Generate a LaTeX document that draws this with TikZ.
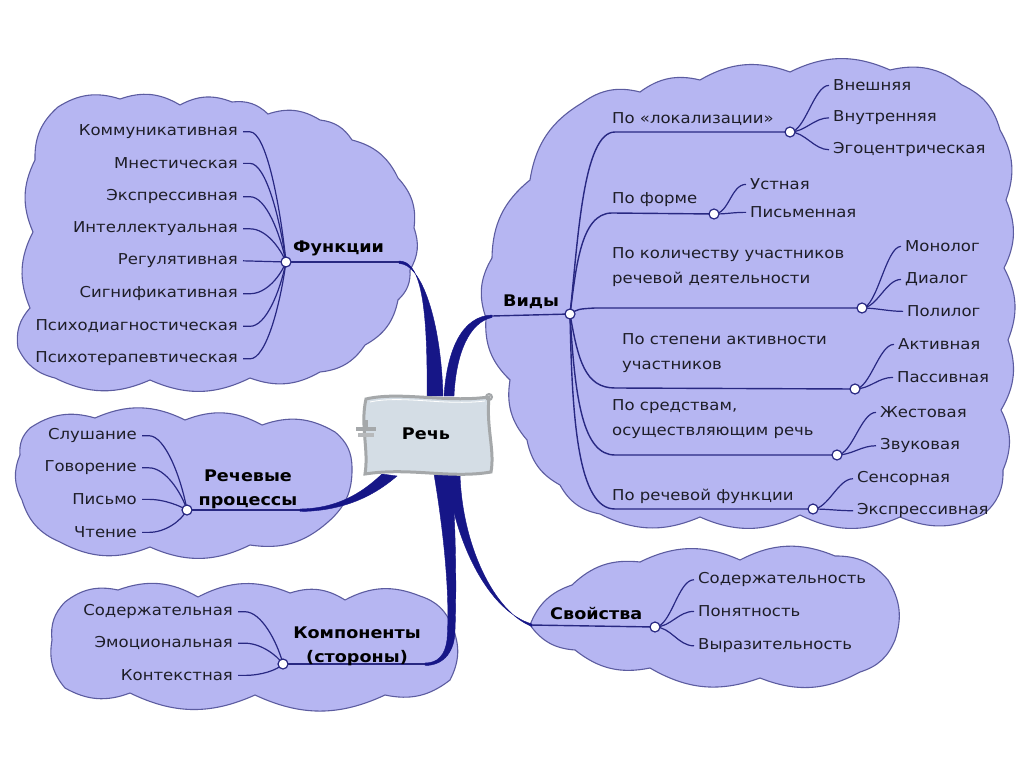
\documentclass[tikz,border=0pt]{standalone}
\usepackage{fontspec}
\setmainfont{DejaVu Sans}[FakeStretch=1.1]
\definecolor{cloudfill}{RGB}{182,182,242}
\definecolor{cloudline}{RGB}{92,92,160}
\definecolor{linec}{RGB}{40,40,130}
\definecolor{thickc}{RGB}{22,22,135}
\definecolor{textc}{RGB}{30,30,40}
\definecolor{boxfill}{RGB}{212,221,229}
\definecolor{boxline}{RGB}{165,168,170}
\begin{document}
\begin{tikzpicture}[x=1pt,y=-1pt,
  cloud/.style={fill=cloudfill, draw=cloudline, line width=1.1pt},
  thin/.style={draw=linec, line width=1.4pt},
  thickbr/.style={fill=thickc, draw=thickc, line width=0.4pt},
  hub/.style={circle, draw=linec, fill=white, line width=1.2pt, minimum size=10pt, inner sep=0pt},
  lab/.style={font=\fontsize{15}{25}\selectfont, text=textc, inner sep=0pt},
  bld/.style={font=\fontsize{16}{24}\selectfont\bfseries, text=black, inner sep=0pt, align=center},
]
\useasboundingbox (0,0) rectangle (1024,767);
\fill[white] (0,0) rectangle (1024,767);

% ---------- clouds ----------
\draw[cloud] (35,160) to[bend left=25] (58,107) to[bend left=25] (120,99) to[bend left=25] (180,105)
  to[bend left=25] (232,102) to[bend left=25] (268,114) to[bend left=25] (320,120) to[bend left=25] (352,140)
  to[bend left=25] (398,178) to[bend left=25] (414,228) to[bend left=25] (410,270) to[bend left=25] (398,300)
  to[bend left=25] (365,345) to[bend left=25] (320,372) to[bend left=25] (250,378) to[bend left=25] (150,380)
  to[bend left=25] (55,378) to[bend left=25] (18,348) to[bend left=25] (30,308) to[bend left=25] (33,232)
  to[bend left=25] (35,160) -- cycle;

\draw[cloud] (30,428) to[bend left=25] (95,418) to[bend left=25] (185,420) to[bend left=25] (262,425)
  to[bend left=25] (335,432) to[bend left=25] (352,468) to[bend left=25] (328,522) to[bend left=25] (250,545)
  to[bend left=25] (150,547) to[bend left=25] (60,542) to[bend left=25] (22,500) to[bend left=25] (20,455)
  to[bend left=25] (30,428) -- cycle;

\draw[cloud] (65,602) to[bend left=25] (118,590) to[bend left=25] (198,597) to[bend left=25] (290,593)
  to[bend left=25] (345,600) to[bend left=25] (420,596) to[bend left=25] (452,626) to[bend left=25] (450,680)
  to[bend left=25] (385,695) to[bend left=25] (255,695) to[bend left=25] (130,693) to[bend left=25] (65,688)
  to[bend left=25] (52,640) to[bend left=25] (65,602) -- cycle;

\draw[cloud] (530,625) to[bend left=25] (572,585) to[bend left=25] (640,562) to[bend left=25] (740,560)
  to[bend left=25] (835,556) to[bend left=25] (888,580) to[bend left=25] (895,640) to[bend left=25] (860,672)
  to[bend left=25] (760,678) to[bend left=25] (650,668) to[bend left=25] (575,650) to[bend left=25] (530,625) -- cycle;

\draw[cloud] (492,258) to[bend left=25] (530,180) to[bend left=25] (582,103) to[bend left=25] (640,92)
  to[bend left=25] (700,80) to[bend left=25] (790,72) to[bend left=25] (890,70) to[bend left=25] (962,85)
  to[bend left=25] (1000,130) to[bend left=25] (1006,200) to[bend left=25] (1004,268) to[bend left=25] (1008,340)
  to[bend left=25] (1001,410) to[bend left=25] (1003,470) to[bend left=25] (984,514) to[bend left=25] (900,517)
  to[bend left=25] (800,515) to[bend left=25] (700,517) to[bend left=25] (600,514) to[bend left=25] (560,485)
  to[bend left=25] (527,440) to[bend left=25] (510,380) to[bend left=25] (486,318) to[bend left=25] (492,258) -- cycle;

% ---------- hubs (positions) ----------
\coordinate (cf) at (286,262);
\coordinate (cr) at (187,510);
\coordinate (ck) at (283,664);
\coordinate (cs) at (655,627);
\coordinate (cv) at (570,314);

% ---------- main thick connectors ----------
\draw[thin] (cf) -- (400,262);
\fill[thickbr] (399,261) .. controls (418,261) and (428,292) .. (427,396) -- (443,396)
   .. controls (441,322) and (422,263.5) .. (399,263.5) -- cycle;
\draw[thin] (cv) -- (492,316);
\fill[thickbr] (444,396) .. controls (447,350) and (462,316) .. (492,315)
   -- (492,317.5) .. controls (470,322) and (456,352) .. (454,396) -- cycle;
\draw[thin] (cr) -- (300,510);
\fill[thickbr] (382,474) .. controls (360,495) and (335,508.5) .. (300,509)
   -- (300,511.5) .. controls (345,511) and (375,495) .. (397,476) -- cycle;
\draw[thin] (ck) -- (425,664);
\fill[thickbr] (434,474) .. controls (445,540) and (450,600) .. (447,640)
   .. controls (445,655) and (438,663) .. (425,663) -- (425,665.5)
   .. controls (445,665.5) and (455,650) .. (455,630)
   .. controls (457,580) and (455,520) .. (452,474) -- cycle;
\draw[thin] (cs) -- (530,625);
\fill[thickbr] (447,474) .. controls (455,545) and (490,612) .. (532,624)
   -- (532,626.5) .. controls (494,612) and (462,545) .. (460,474) -- cycle;

% ---------- central node ----------
\path[fill=boxfill, draw=boxline, line width=3pt]
  (366,399) .. controls (400,391) and (445,403) .. (489,397)
  .. controls (486,428) and (495,450) .. (491,472)
  .. controls (450,479) and (410,467) .. (365,474)
  .. controls (369,450) and (360,425) .. (366,399) -- cycle;
\draw[boxline, line width=2pt] (489,397) circle (3);
\draw[white, line width=0.8pt] (370,402) .. controls (402,395) and (445,406) .. (485,401);
\node[font=\fontsize{16}{18}\selectfont\bfseries, text=black, inner sep=0pt] (rech) at (426,434) {Речь};
% small icon
\fill[boxline] (356,427) rectangle (376,431);
\fill[boxline!80] (358,433) rectangle (374,437);
\fill[boxline] (364,420) rectangle (368,427);

% ---------- Функции ----------
\node[bld, anchor=mid west] (fun) at (293,250) {Функции};
\node[lab, anchor=mid east] (f1) at (238,133) {Коммуникативная};
\node[lab, anchor=mid east] (f2) at (238,166) {Мнестическая};
\node[lab, anchor=mid east] (f3) at (238,198) {Экспрессивная};
\node[lab, anchor=mid east] (f4) at (238,230) {Интеллектуальная};
\node[lab, anchor=mid east] (f5) at (238,262) {Регулятивная};
\node[lab, anchor=mid east] (f6) at (238,295) {Сигнификативная};
\node[lab, anchor=mid east] (f7) at (238,328) {Психодиагностическая};
\node[lab, anchor=mid east] (f8) at (238,360) {Психотерапевтическая};
\foreach \i/\d in {1/-129,2/-96,3/-64,4/-32,6/33,7/66,8/98}
  \draw[thin, line width=1.2pt] ([xshift=5]f\i.east) -- ++(7,0) .. controls +(16,0) and +(-6,{0.45*\d}) .. (cf);
\draw[thin, line width=1.2pt] ([xshift=5]f5.east) -- (cf);

% ---------- Речевые процессы ----------
\node[bld] (rp) at (248,489) {Речевые\\процессы};
\node[lab, anchor=mid east] (r1) at (137,437) {Слушание};
\node[lab, anchor=mid east] (r2) at (137,469) {Говорение};
\node[lab, anchor=mid east] (r3) at (137,502) {Письмо};
\node[lab, anchor=mid east] (r4) at (137,535) {Чтение};
\foreach \i/\d in {1/-73,2/-41,3/-8,4/25}
  \draw[thin, line width=1.2pt] ([xshift=5]r\i.east) -- ++(7,0) .. controls +(16,0) and +(-6,{0.45*\d}) .. (cr);

% ---------- Компоненты ----------
\node[bld] (kp) at (357,646) {Компоненты\\(стороны)};
\node[lab, anchor=mid east] (k1) at (233,613) {Содержательная};
\node[lab, anchor=mid east] (k2) at (233,645) {Эмоциональная};
\node[lab, anchor=mid east] (k3) at (233,678) {Контекстная};
\foreach \i/\d in {1/-51,2/-19,3/14}
  \draw[thin, line width=1.2pt] ([xshift=5]k\i.east) -- ++(7,0) .. controls +(16,0) and +(-6,{0.45*\d}) .. (ck);

% ---------- Свойства ----------
\node[bld, anchor=mid west] (sv) at (550,617) {Свойства};
\node[lab, anchor=mid west] (s1) at (698,581) {Содержательность};
\node[lab, anchor=mid west] (s2) at (698,614) {Понятность};
\node[lab, anchor=mid west] (s3) at (698,647) {Выразительность};
\foreach \i in {1,2,3}
  \draw[thin, line width=1.2pt] (cs) .. controls +(16,0) and +(-16,0) .. ([xshift=-4]s\i.west);

% ---------- Виды ----------
\node[bld, anchor=mid west] (vid) at (503,304) {Виды};
\node[lab, anchor=mid west] (v1) at (612,121) {По «локализации»};
\node[lab, anchor=mid west] (v2) at (612,201) {По форме};
\node[lab, anchor=mid west, align=left] (v3) at (612,281) {По количеству участников\\речевой деятельности};
\node[lab, anchor=mid west, align=left] (v4) at (622,367) {По степени активности\\участников};
\node[lab, anchor=mid west, align=left] (v5) at (612,433) {По средствам,\\осуществляющим речь};
\node[lab, anchor=mid west] (v6) at (612,498) {По речевой функции};

\coordinate (c1) at (790,132);
\coordinate (c2) at (714,214);
\coordinate (c3) at (862,308);
\coordinate (c4) at (855,389);
\coordinate (c5) at (837,455);
\coordinate (c6) at (813,509);

\draw[thin] (cv) .. controls (578,240) and (583,132) .. (615,132) -- (c1);
\draw[thin] (cv) .. controls (576,270) and (580,213) .. (612,213) -- (c2);
\draw[thin] (cv) .. controls (578,309) .. (595,308) -- (c3);
\draw[thin] (cv) .. controls (578,360) and (585,388) .. (615,388) -- (c4);
\draw[thin] (cv) .. controls (575,400) and (583,455) .. (615,455) -- (c5);
\draw[thin] (cv) .. controls (572,420) and (578,509) .. (615,509) -- (c6);

\node[lab, anchor=mid west] (l11) at (833,88) {Внешняя};
\node[lab, anchor=mid west] (l12) at (833,119) {Внутренняя};
\node[lab, anchor=mid west] (l13) at (833,151) {Эгоцентрическая};
\node[lab, anchor=mid west] (l21) at (750,187) {Устная};
\node[lab, anchor=mid west] (l22) at (750,215) {Письменная};
\node[lab, anchor=mid west] (l31) at (905,249) {Монолог};
\node[lab, anchor=mid west] (l32) at (905,281) {Диалог};
\node[lab, anchor=mid west] (l33) at (907,314) {Полилог};
\node[lab, anchor=mid west] (l41) at (898,347) {Активная};
\node[lab, anchor=mid west] (l42) at (897,380) {Пассивная};
\node[lab, anchor=mid west] (l51) at (880,415) {Жестовая};
\node[lab, anchor=mid west] (l52) at (880,447) {Звуковая};
\node[lab, anchor=mid west] (l61) at (857,480) {Сенсорная};
\node[lab, anchor=mid west] (l62) at (857,512) {Экспрессивная};

\foreach \h/\l in {c1/l11,c1/l12,c1/l13,c2/l21,c2/l22,c3/l31,c3/l32,c3/l33,c4/l41,c4/l42,c5/l51,c5/l52,c6/l61,c6/l62}
  \draw[thin, line width=1.2pt] (\h) .. controls +(15,0) and +(-15,0) .. ([xshift=-4]\l.west);

% ---------- hub circles ----------
\foreach \c in {cf,cr,ck,cs,cv,c1,c2,c3,c4,c5,c6}
  \node[hub] at (\c) {};
\end{tikzpicture}
\end{document}
